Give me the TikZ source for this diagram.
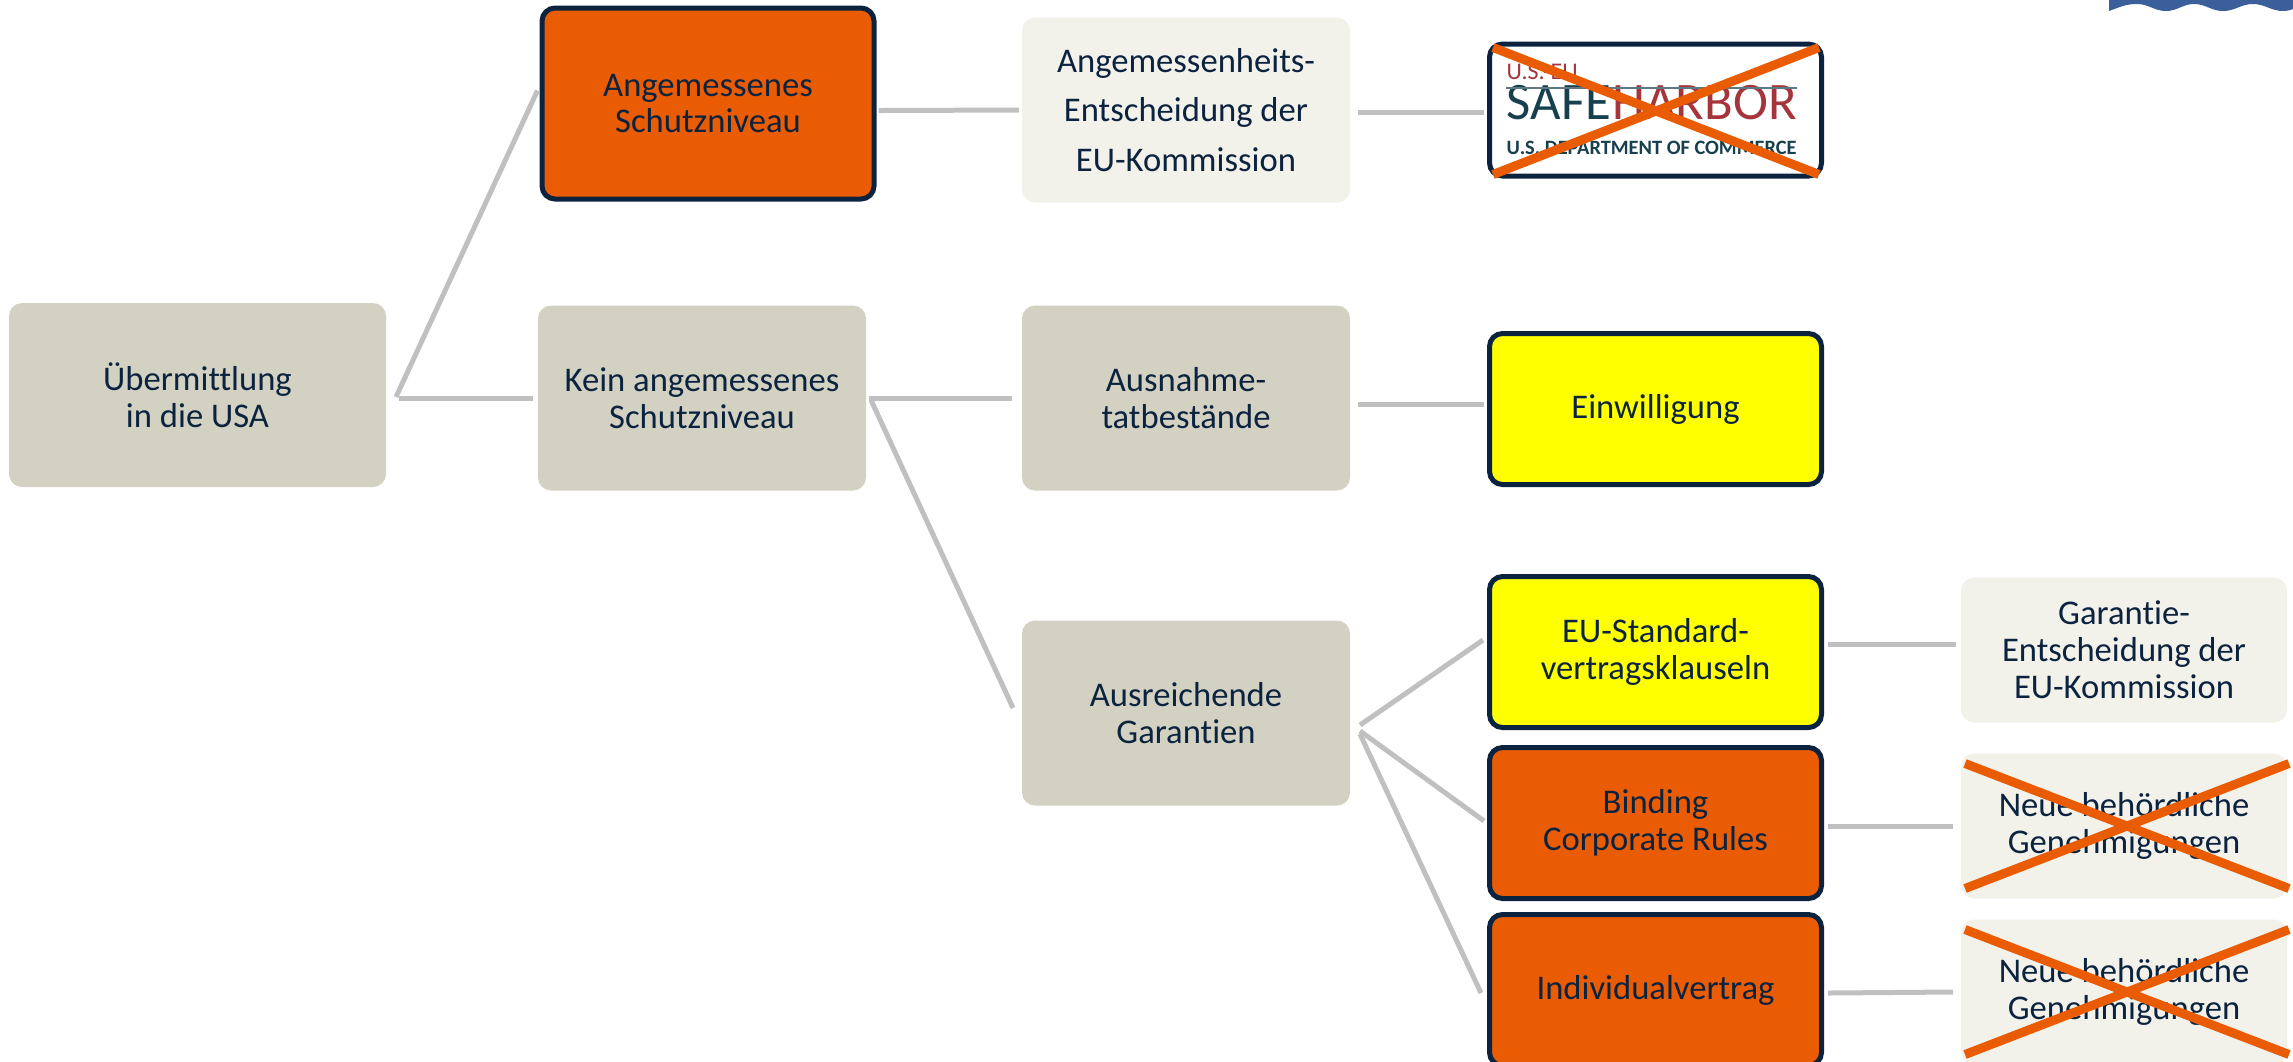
\documentclass[tikz,border=0pt]{standalone}
\usepackage{fontspec}
\setmainfont{Carlito}[Ligatures=NoCommon]
\usetikzlibrary{positioning}

\definecolor{navy}{HTML}{0C2340}
\definecolor{sand}{HTML}{D3D2C2}
\definecolor{hell}{HTML}{F2F1EA}
\definecolor{signal}{HTML}{E95C03}
\definecolor{gelb}{HTML}{FFFF00}
\definecolor{linie}{HTML}{C0C0C0}
\definecolor{welle}{HTML}{3A5F9B}
\definecolor{logorot}{HTML}{A5353A}
\definecolor{logoblau}{HTML}{17404F}

\begin{document}
\begin{tikzpicture}[>=stealth, node distance=1.37cm]
	\tikzstyle{format} = [rounded corners=0.13cm, align=center, text=navy, inner sep=0pt, outer sep=0pt, font=\fontsize{9.85}{10.5}\selectfont]
	\tikzstyle{sandbox} = [format, fill=sand, minimum width=3.28cm, minimum height=1.85cm]
	\tikzstyle{hellbox} = [format, fill=hell, minimum width=3.26cm, minimum height=1.45cm]
	\tikzstyle{markbox} = [format, draw=navy, line width=0.05cm, outer sep=0.025cm, minimum width=3.32cm, minimum height=1.51cm]
	\tikzstyle{link} = [draw=linie, line width=0.05cm]
	\tikzstyle{kreuz} = [draw=signal, line width=0.09cm]

	\clip (0,0) rectangle (22.93,-10.61);

	% blue edge at the top right
	\fill[welle] (21.09,0) -- (21.09,-.11) to[out=20,in=180] (21.37,-.04) to[out=0,in=180] (21.66,-.11)
		to[out=0,in=180] (21.94,-.04) to[out=0,in=180] (22.23,-.11) to[out=0,in=180] (22.53,-.04)
		to[out=0,in=180] (22.83,-.11) to[out=0,in=200] (22.93,-.09) -- (22.93,0) -- cycle;

	% left part of the tree
	\node[sandbox, minimum width=3.77cm, minimum height=1.84cm] (root) at (1.975,-3.95) {Übermittlung\\in die USA};
	\node[sandbox, right=1.52cm of root, yshift=-.03cm] (kein) {Kein angemessenes\\Schutzniveau};
	\node[markbox, fill=signal, above=1.04cm of kein, xshift=.06cm, minimum width=3.32cm, minimum height=1.91cm] (angemessen) {Angemessenes\\Schutzniveau};

	% middle column
	\node[sandbox, right=1.56cm of kein] (ausnahme) {Ausnahme-\\tatbestände};
	\node[sandbox, fill=hell, above=1.03cm of ausnahme] (kommission) {Angemessenheits-\\[.13cm]Entscheidung der\\[.13cm]EU-Kommission};
	\node[sandbox, below=1.30cm of ausnahme] (garantien) {Ausreichende\\Garantien};

	% marked boxes
	\node[markbox, fill=white, right=of kommission, minimum height=1.32cm] (harbor) {};
	\node[markbox, fill=gelb, right=of ausnahme, yshift=-.11cm] (einwilligung) {Einwilligung};
	\node[markbox, fill=gelb, below=.87cm of einwilligung] (klauseln) {EU-Standard-\\vertragsklauseln};
	\node[markbox, fill=signal, below=.15cm of klauseln] (bcr) {Binding\\Corporate Rules};
	\node[markbox, fill=signal, below=.11cm of bcr] (vertrag) {Individualvertrag};

	% right column
	\node[hellbox, right=of klauseln, yshift=.02cm] (garantie) {Garantie-\\Entscheidung der\\EU-Kommission};
	\node[hellbox, right=of bcr, yshift=-.03cm] (neueA) {Neue behördliche\\Genehmigungen};
	\node[hellbox, right=of vertrag, yshift=-.02cm] (neueB) {Neue behördliche\\Genehmigungen};

	% logo inside the crossed box
	\node[anchor=base west, inner sep=0pt, text=logorot, font=\fontsize{6.8}{8}\selectfont] (logoA) at ([shift={(.19,-.38)}]harbor.north west) {U.S.-EU};
	\node[anchor=base west, inner sep=0pt, text=logoblau, font=\fontsize{15}{16}\selectfont] (logoB) at ([shift={(.19,-.78)}]harbor.north west) {SAFE};
	\node[anchor=base west, inner sep=0pt, text=logorot, font=\fontsize{15}{16}\selectfont] (logoC) at (logoB.base east) {HARBOR};
	\node[anchor=base west, inner sep=0pt, text=logoblau, font=\fontsize{5.8}{8}\bfseries\selectfont] (logoD) at ([shift={(.19,-1.13)}]harbor.north west) {U.S. DEPARTMENT OF COMMERCE};
	\draw[draw=logoblau!70, line width=0.015cm] (logoB.base west |- 0,-.88) -- (logoC.base east |- 0,-.88);

	\path[link]
		([shift={(.10,-.02)}]root.east) edge ([shift={(-.02,.13)}]angemessen.west)
		([shift={(.13,-.03)}]root.east) edge ([xshift=-.05cm]kein.west)
		([shift={(.02,-.07)}]angemessen.east) edge ([xshift=-.03cm]kommission.west)
		([xshift=.025cm]kein.east) edge ([xshift=-.10cm]ausnahme.west)
		([shift={(.05,-.02)}]kein.east) edge ([shift={(-.09,.05)}]garantien.west)
		([shift={(.08,-.02)}]kommission.east) edge ([shift={(-.03,-.02)}]harbor.west)
		([shift={(.08,-.06)}]ausnahme.east) edge ([shift={(-.03,.05)}]einwilligung.west)
		([shift={(.10,-.12)}]garantien.east) edge ([shift={(-.04,.12)}]klauseln.west)
		([shift={(.10,-.18)}]garantien.east) edge ([shift={(-.03,.02)}]bcr.west)
		([shift={(.10,-.21)}]garantien.east) edge ([shift={(-.06,-.03)}]vertrag.west)
		([shift={(.04,.08)}]klauseln.east) edge ([shift={(-.05,.06)}]garantie.west)
		([shift={(.04,-.03)}]bcr.east) edge ([xshift=-.08cm]neueA.west)
		([shift={(.04,-.03)}]vertrag.east) edge ([xshift=-.08cm]neueB.west)
	;

	% crosses
	\foreach \n in {neueA, neueB} {
		\draw[kreuz] ([shift={(.04,-.10)}]\n.north west) -- ([shift={(.02,.10)}]\n.south east);
		\draw[kreuz] ([shift={(.04,.10)}]\n.south west) -- ([shift={(.02,-.10)}]\n.north east);
	}
	\draw[kreuz] ([shift={(.06,-.06)}]harbor.north west) -- ([shift={(-.05,.04)}]harbor.south east);
	\draw[kreuz] ([shift={(.06,.04)}]harbor.south west) -- ([shift={(-.05,-.06)}]harbor.north east);
\end{tikzpicture}
\end{document}
